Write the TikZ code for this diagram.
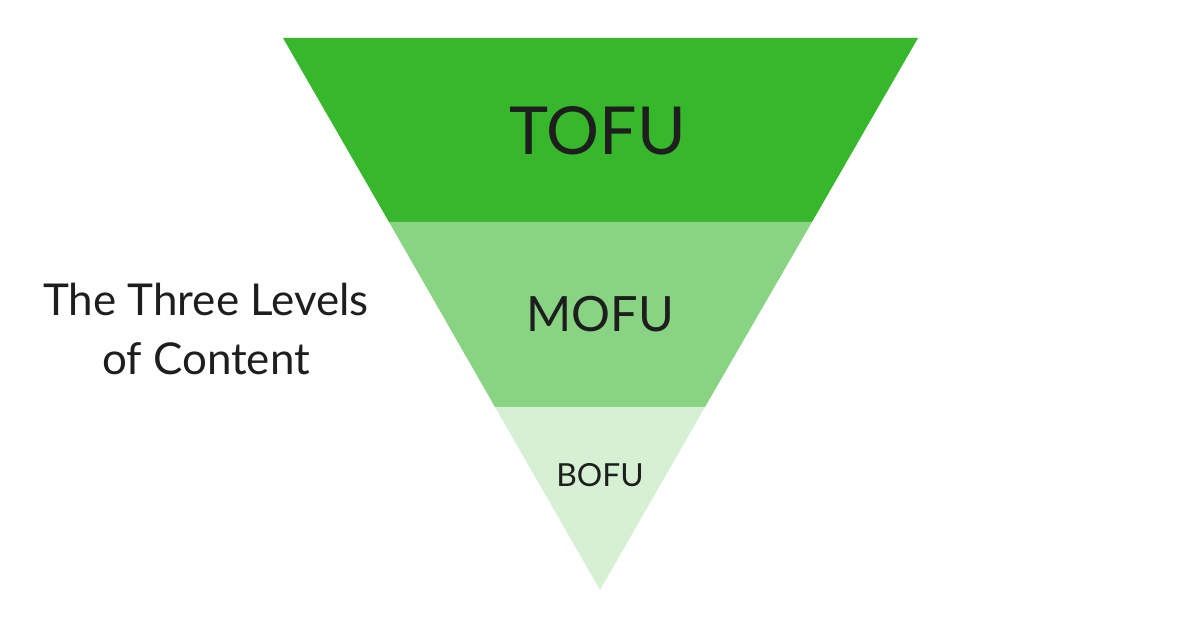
\documentclass[tikz,border=0pt]{standalone}
\usepackage{fontspec}
\setmainfont{Lato}
\usepackage{xcolor}
\usetikzlibrary{positioning}

\definecolor{tofugreen}{HTML}{37B72B}
\definecolor{mofugreen}{HTML}{88D483}
\definecolor{bofugreen}{HTML}{D6F0D3}
\definecolor{inkgray}{HTML}{1E1E1E}

\begin{document}
\begin{tikzpicture}[
  x=0.02cm, y=-0.02cm,
  every node/.style={text=inkgray, inner sep=0pt},
  band/.style={draw=none}
]
\useasboundingbox (0,0) rectangle (1200,628);
% funnel corners
\coordinate (tl) at (283,38);
\coordinate (tr) at (918,38);
\coordinate (ml) at (389,222);
\coordinate (mr) at (812,222);
\coordinate (bl) at (495,407);
\coordinate (br) at (705,407);
\coordinate (apex) at (600,590);
% three bands
\fill[band, tofugreen] (tl) -- (tr) -- (mr) -- (ml) -- cycle;
\fill[band, mofugreen] (ml) -- (mr) -- (br) -- (bl) -- cycle;
\fill[band, bofugreen] (bl) -- (br) -- (apex) -- cycle;
% labels
\node[font=\fontsize{37.7}{45}\selectfont] (tofu) at (597.5,130.5) {TOFU};
\node[font=\fontsize{27.7}{33}\selectfont] (mofu) at (600,314.5) {MOFU};
\node[font=\fontsize{18.1}{22}\selectfont] (bofu) at (600,475) {BOFU};
\node[font=\fontsize{25}{33.5}\selectfont, align=center] (title) at (206,329)
  {The Three Levels\\of Content};
\end{tikzpicture}
\end{document}
